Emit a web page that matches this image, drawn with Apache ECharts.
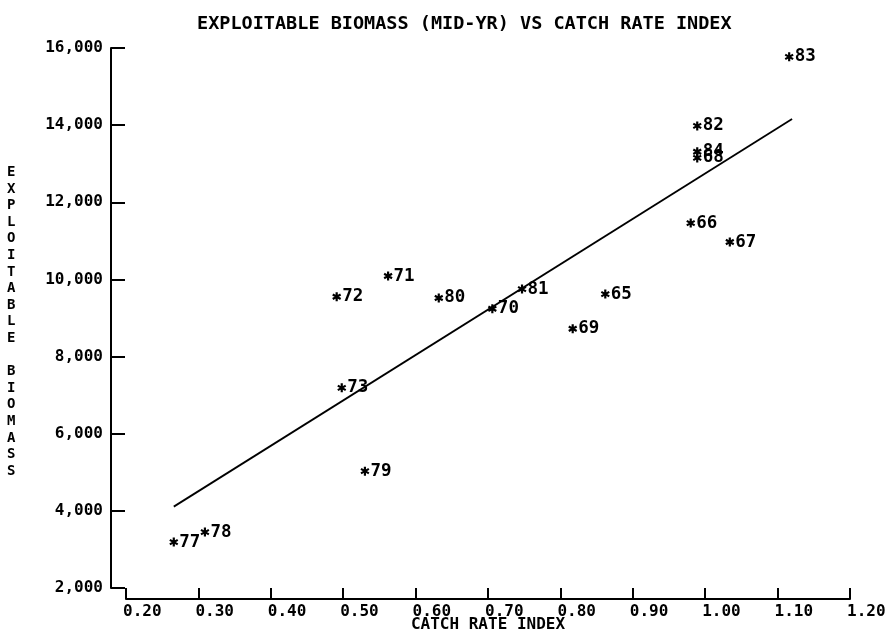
<!DOCTYPE html>
<html>
<head>
<meta charset="utf-8">
<title>Exploitable biomass vs catch rate index</title>
<script src="https://cdn.jsdelivr.net/npm/echarts@6/dist/echarts.min.js"></script>
<style>
  html, body { margin: 0; padding: 0; background: #ffffff; }
  #chart { width: 893px; height: 633px; }
</style>
</head>
<body>
<div id="chart"></div>
<script>
// Survey years (two-digit) with catch rate index and mid-year exploitable biomass
const years     = ['65', '66', '67', '68', '69', '70', '71', '72', '73', '77', '78', '79', '80', '81', '82', '83', '84'];
const catchRate = [0.862, 0.980, 1.034, 0.989, 0.817, 0.706, 0.562, 0.491, 0.498, 0.266, 0.309, 0.530, 0.632, 0.747, 0.989, 1.116, 0.989];
const biomass   = [9620, 11460, 10970, 13150, 8720, 9240, 10090, 9550, 7190, 3190, 3450, 5030, 9520, 9750, 13980, 15770, 13310];

// Fitted regression line end points
const fitX = [0.266, 1.120];
const fitY = [4110, 14160];

// Axis tick values
const xTicks = [0.20, 0.30, 0.40, 0.50, 0.60, 0.70, 0.80, 0.90, 1.00, 1.10, 1.20];
const yTicks = [2000, 4000, 6000, 8000, 10000, 12000, 14000, 16000];

const titleText = 'EXPLOITABLE BIOMASS (MID-YR) VS CATCH RATE INDEX';
const xName = 'CATCH RATE INDEX';
const yName = 'EXPLOITABLE BIOMASS';

const FONT = '"DejaVu Sans Mono", "Liberation Mono", monospace';
const INK = '#000000';

// Plotter-style asterisk: three crossed bars
const asterisk = 'path://M-0.24,-1 L0.24,-1 L0.24,1 L-0.24,1 Z ' +
  'M-0.986,-0.292 L-0.746,-0.708 L0.986,0.292 L0.746,0.708 Z ' +
  'M0.746,-0.708 L0.986,-0.292 L-0.746,0.708 L-0.986,0.292 Z';

const points = catchRate.map((x, i) => [x, biomass[i], years[i]]);
const fitLine = fitX.map((x, i) => [x, fitY[i]]);

// Stacked letters for the vertical axis title
const yNameStacked = yName.split('').join('\n');

const chart = echarts.init(document.getElementById('chart'), null, { renderer: 'canvas' });

chart.setOption({
  backgroundColor: '#ffffff',
  animation: false,
  title: {
    text: titleText,
    left: 192,
    top: 10,
    textStyle: { fontFamily: FONT, fontSize: 18.5, fontWeight: 'bold', color: INK }
  },
  grid: { left: 126, right: 43, top: 48, bottom: 45, containLabel: false, outerBoundsMode: 'none' },
  xAxis: {
    type: 'value',
    min: xTicks[0],
    max: xTicks[xTicks.length - 1],
    interval: 0.1,
    offset: 11,
    name: xName,
    nameLocation: 'middle',
    nameGap: 18,
    nameMoveOverlap: false,
    nameTextStyle: { fontFamily: FONT, fontSize: 16, fontWeight: 'bold', color: INK },
    axisLine: { show: true, lineStyle: { color: INK, width: 2 } },
    axisTick: { show: true, inside: true, length: 11, lineStyle: { color: INK, width: 2 } },
    axisLabel: {
      fontFamily: FONT, fontSize: 16, fontWeight: 'bold', color: INK, margin: 5,
      align: 'left', padding: [0, 0, 0, -3],
      formatter: v => v.toFixed(2)
    },
    splitLine: { show: false }
  },
  yAxis: {
    type: 'value',
    min: yTicks[0],
    max: yTicks[yTicks.length - 1],
    interval: 2000,
    offset: 15,
    axisLine: { show: true, lineStyle: { color: INK, width: 2 } },
    axisTick: { show: true, inside: true, length: 14, lineStyle: { color: INK, width: 2 } },
    axisLabel: {
      fontFamily: FONT, fontSize: 16, fontWeight: 'bold', color: INK, margin: 8,
      formatter: v => Math.round(v).toLocaleString('en-US')
    },
    splitLine: { show: false }
  },
  graphic: [{
    type: 'text',
    left: 7,
    top: 164,
    style: {
      text: yNameStacked,
      font: 'bold 14px ' + FONT,
      lineHeight: 16.6,
      fill: INK,
      textAlign: 'center'
    }
  }],
  series: [
    {
      type: 'line',
      data: fitLine,
      showSymbol: false,
      symbol: 'none',
      lineStyle: { color: INK, width: 1.8 },
      z: 2
    },
    {
      type: 'scatter',
      data: points,
      symbol: asterisk,
      symbolSize: 9,
      itemStyle: { color: INK, opacity: 1 },
      label: {
        show: true,
        position: 'right',
        distance: 1,
        formatter: p => p.data[2],
        fontFamily: FONT,
        fontSize: 17.5,
        fontWeight: 'bold',
        color: INK,
        opacity: 1,
        textBorderWidth: 0
      },
      z: 3
    }
  ]
});
</script>
</body>
</html>
